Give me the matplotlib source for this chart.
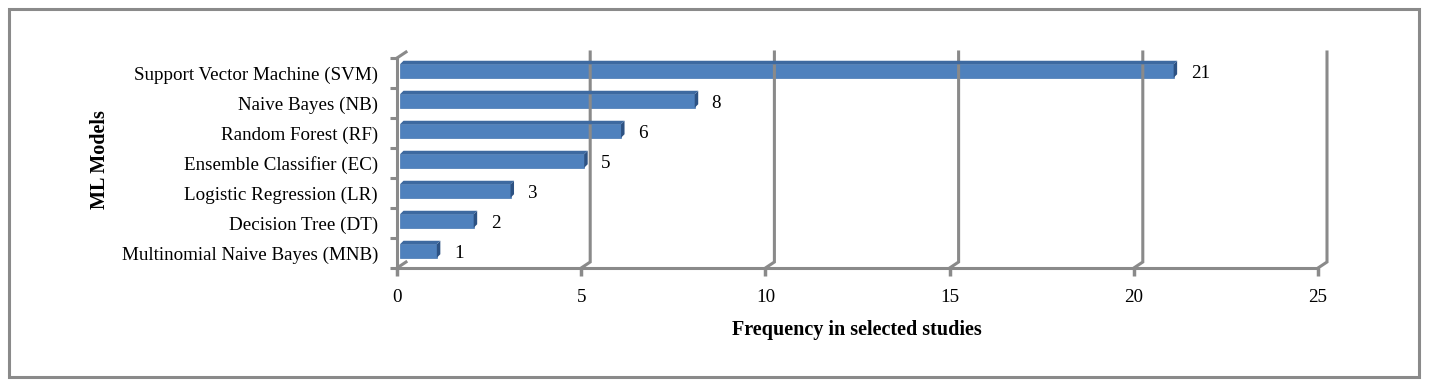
import matplotlib
matplotlib.use('Agg')
import matplotlib.pyplot as plt
from matplotlib.patches import Polygon, Rectangle
from matplotlib.lines import Line2D
from matplotlib.transforms import offset_copy, IdentityTransform
import numpy as np

models = ["Support Vector Machine (SVM)", "Naive Bayes (NB)", "Random Forest (RF)",
          "Ensemble Classifier (EC)", "Logistic Regression (LR)", "Decision Tree (DT)",
          "Multinomial Naive Bayes (MNB)"]
counts = [21, 8, 6, 5, 3, 2, 1]
xticks = [0, 5, 10, 15, 20, 25]
x_label = "Frequency in selected studies"
y_label = "ML Models"

plt.rcParams['font.family'] = ['Liberation Serif', 'DejaVu Serif']
FS = 13.7
FSB = 14.5
GRAY = '#8a8a8a'
BAR = '#4f81bd'
BAR_DARK = '#2d5283'
BAR_TOP = '#3d69a0'

W, H = 1429, 380
fig = plt.figure(figsize=(W / 100, H / 100), dpi=100)
fig.patch.set_facecolor('white')
# outer border
fig.add_artist(Rectangle((9 / W, 3 / H), 1410 / W, 368 / H, transform=fig.transFigure,
                         fill=False, edgecolor=GRAY, linewidth=2.2))

ax = fig.add_axes([397 / W, (H - 268) / H, (1318 - 397) / W, (268 - 58) / H])
n = len(models)
ypos = np.arange(n)[::-1]
ax.set_xlim(0, 25)
ax.set_ylim(-0.5, n - 0.5)
ax.patch.set_visible(False)
for k, s in ax.spines.items():
    s.set_visible(k in ('left', 'bottom'))
    s.set_color(GRAY)
    s.set_linewidth(2.2)

ax.set_xticks(xticks)
ax.set_xticklabels([str(v) for v in xticks], fontsize=FS)
ax.set_yticks(ypos)
ax.set_yticklabels(models, fontsize=FS)
ax.set_yticks(np.arange(-0.5, n, 1.0), minor=True)
ax.tick_params(axis='x', length=6, width=2.5, color=GRAY, pad=9)
ax.tick_params(axis='y', which='major', length=0, pad=13.7)
ax.tick_params(axis='y', which='minor', length=5, width=2.2, color=GRAY)

ax.set_xlabel(x_label, fontsize=FSB, fontweight='bold')
ax.xaxis.set_label_coords(0.4995, -0.247)
ax.set_ylabel(y_label, fontsize=FSB, fontweight='bold')
ax.yaxis.set_label_coords(-0.312, 0.514)

# 3D back wall gridlines
DX, DY = 9, 6
td = ax.transData
ymin, ymax = ax.get_ylim()
for v in xticks:
    fx, fy = td.transform((v, ymin))
    tx, ty = td.transform((v, ymax))
    if v == 0:
        fig.add_artist(Line2D([fx, fx + DX], [fy, fy + DY], transform=IdentityTransform(),
                              color=GRAY, lw=2.2))
        fig.add_artist(Line2D([tx, tx + DX], [ty, ty + DY], transform=IdentityTransform(),
                              color=GRAY, lw=2.2))
    else:
        fig.add_artist(Line2D([fx, fx + DX, tx + DX], [fy, fy + DY, ty + DY],
                              transform=IdentityTransform(), color=GRAY, lw=2.2,
                              solid_joinstyle='miter', zorder=0.5))

# bars (placed at mid-depth)
bt = offset_copy(td, fig=fig, x=3, y=2, units='dots')
BH = 0.45
ax.barh(ypos, counts, height=BH, color=BAR, transform=bt, zorder=3,
        edgecolor='#4577b3', linewidth=0.5)
cd = 3.5
for y, c in zip(ypos, counts):
    x0, yb = bt.transform((0, y - BH / 2))
    x1, yt = bt.transform((c, y + BH / 2))
    fig.add_artist(Polygon([[x1, yb], [x1 + cd, yb + cd], [x1 + cd, yt + cd], [x1, yt]],
                           closed=True, transform=IdentityTransform(), facecolor=BAR_DARK,
                           edgecolor='none', zorder=4))
    fig.add_artist(Polygon([[x0, yt], [x0 + cd, yt + cd], [x1 + cd, yt + cd], [x1, yt]],
                           closed=True, transform=IdentityTransform(), facecolor=BAR_TOP,
                           edgecolor='none', zorder=4))
    ax.annotate(str(c), xy=(c, y), xycoords=bt, xytext=(17, -3), textcoords='offset pixels',
                ha='left', va='center', fontsize=FS)

fig.savefig('out.png', dpi=100)
